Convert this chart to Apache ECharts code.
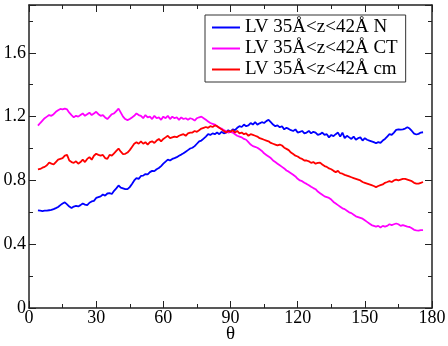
<!DOCTYPE html>
<html>
<head>
<meta charset="utf-8">
<script src="https://cdn.jsdelivr.net/npm/echarts@6/dist/echarts.min.js"></script>
<style>html,body{margin:0;padding:0;background:#fff;}#c{width:448px;height:346px;}</style>
</head>
<body>
<div id="c"></div>
<script>
// sampling angles (degrees), 4..176 in 1-degree steps
const thetaStart = 4;
const seriesNames = ['LV 35Å<z<42Å N', 'LV 35Å<z<42Å CT', 'LV 35Å<z<42Å cm'];
const xTickStep = 30;   // x tick labels 0,30,...,180
const yTickStep = 0.4;  // y tick labels 0,0.4,...,1.6

const valN = [
.612,.610,.608,.610,.611,.613,.615,.620,.626,.633,.645,.655,.662,.650,.636,.627,.636,.640,.637,.645,
.655,.648,.645,.660,.668,.672,.690,.695,.700,.712,.705,.718,.720,.715,.735,.750,.768,.755,.750,.745,
.745,.758,.778,.800,.815,.810,.828,.830,.840,.838,.852,.860,.858,.870,.878,.890,.905,.918,.930,.925,
.935,.940,.946,.955,.962,.970,.980,.990,1.000,1.005,1.015,1.030,1.045,1.050,1.062,1.075,1.090,1.085,1.095,1.090,
1.100,1.090,1.105,1.095,1.100,1.115,1.105,1.120,1.115,1.130,1.140,1.135,1.150,1.140,1.145,1.160,1.150,1.165,1.150,1.158,
1.165,1.160,1.172,1.180,1.165,1.150,1.140,1.145,1.133,1.140,1.120,1.130,1.123,1.115,1.110,1.120,1.100,1.105,1.110,1.095,
1.100,1.110,1.095,1.105,1.100,1.085,1.090,1.100,1.085,1.090,1.070,1.085,1.078,1.090,1.100,1.075,1.100,1.065,1.080,1.070,
1.060,1.075,1.055,1.065,1.070,1.050,1.065,1.055,1.050,1.045,1.040,1.033,1.040,1.035,1.050,1.060,1.075,1.090,1.085,1.100,
1.117,1.120,1.118,1.120,1.125,1.133,1.125,1.110,1.093,1.088,1.092,1.100,1.102
];
const valCT = [
1.144,1.160,1.175,1.190,1.200,1.210,1.205,1.215,1.230,1.240,1.248,1.245,1.250,1.245,1.225,1.210,1.196,1.205,1.200,1.210,
1.220,1.205,1.215,1.225,1.210,1.220,1.230,1.215,1.205,1.210,1.195,1.185,1.200,1.215,1.220,1.235,1.250,1.225,1.200,1.185,
1.178,1.185,1.195,1.205,1.220,1.210,1.205,1.190,1.210,1.195,1.200,1.185,1.205,1.190,1.195,1.180,1.200,1.190,1.205,1.185,
1.200,1.190,1.196,1.180,1.195,1.185,1.190,1.180,1.190,1.185,1.175,1.190,1.196,1.200,1.190,1.180,1.170,1.160,1.155,1.150,
1.140,1.130,1.125,1.115,1.110,1.100,1.105,1.100,1.090,1.080,1.075,1.070,1.060,1.055,1.040,1.025,1.015,1.010,1.005,0.995,
0.985,0.970,0.960,0.950,0.940,0.925,0.915,0.905,0.895,0.885,0.875,0.862,0.855,0.845,0.835,0.825,0.810,0.800,0.795,0.785,
0.778,0.770,0.760,0.752,0.745,0.730,0.720,0.710,0.700,0.695,0.690,0.680,0.665,0.655,0.645,0.635,0.625,0.620,0.610,0.600,
0.595,0.585,0.575,0.570,0.565,0.560,0.550,0.540,0.530,0.520,0.515,0.510,0.515,0.505,0.515,0.510,0.515,0.525,0.520,0.525,
0.530,0.525,0.515,0.520,0.515,0.510,0.508,0.500,0.490,0.487,0.485,0.488,0.488
];
const valCm = [
0.869,0.872,0.880,0.885,0.895,0.912,0.905,0.900,0.915,0.930,0.935,0.940,0.956,0.960,0.925,0.915,0.910,0.920,0.905,0.915,
0.930,0.915,0.935,0.946,0.930,0.955,0.967,0.960,0.955,0.960,0.940,0.935,0.960,0.955,0.970,0.985,1.000,0.980,0.965,0.967,
0.975,0.990,1.010,1.030,1.040,1.030,1.045,1.030,1.040,1.025,1.040,1.045,1.035,1.050,1.060,1.045,1.060,1.070,1.080,1.065,
1.070,1.075,1.071,1.080,1.085,1.090,1.080,1.095,1.100,1.100,1.110,1.105,1.115,1.125,1.130,1.135,1.130,1.140,1.135,1.145,
1.140,1.130,1.120,1.110,1.100,1.110,1.105,1.115,1.100,1.110,1.095,1.100,1.090,1.095,1.080,1.090,1.085,1.080,1.075,1.065,
1.060,1.055,1.050,1.045,1.035,1.030,1.025,1.020,1.025,1.019,1.005,0.998,0.990,0.975,0.965,0.955,0.950,0.940,0.935,0.925,
0.925,0.920,0.910,0.915,0.905,0.910,0.912,0.900,0.890,0.885,0.875,0.870,0.860,0.852,0.860,0.845,0.842,0.835,0.830,0.825,
0.820,0.815,0.810,0.805,0.800,0.790,0.785,0.780,0.775,0.770,0.765,0.758,0.765,0.770,0.775,0.785,0.790,0.796,0.790,0.800,
0.805,0.800,0.805,0.810,0.810,0.805,0.800,0.795,0.785,0.780,0.780,0.785,0.790
];

const theta = valN.map((_, i) => thetaStart + i);
const pairs = vals => vals.map((v, i) => [theta[i], v]);

const SERIF = 'Liberation Serif';
const chart = echarts.init(document.getElementById('c'), null, {renderer: 'canvas'});
const frameColor = '#222';

const frame = () => ({
  axisTick: {show: true, inside: true, length: 7, lineStyle: {color: frameColor, width: 1}},
  minorTick: {show: true, splitNumber: 2, length: 4, lineStyle: {color: frameColor, width: 1}},
  axisLine: {show: true, onZero: false, lineStyle: {color: frameColor, width: 1.5}},
  splitLine: {show: false}
});
const richLabel = () => ({t: {fontFamily: SERIF, fontSize: 18, color: '#000'}});

chart.setOption({
  animation: false,
  backgroundColor: '#fff',
  textStyle: {fontFamily: SERIF},
  grid: {left: 29, right: 16, top: 5, bottom: 38, containLabel: false, outerBoundsMode: 'none'},
  legend: {
    orient: 'vertical',
    left: 205, top: 15,
    padding: [2, 8, 2, 7],
    itemGap: 0,
    itemWidth: 28, itemHeight: 2,
    icon: 'rect',
    borderColor: '#333', borderWidth: 1,
    backgroundColor: '#fff',
    textStyle: {fontFamily: SERIF, fontSize: 19, color: '#000', lineHeight: 21},
    data: seriesNames
  },
  xAxis: [Object.assign({
    type: 'value', min: 0, max: 180, interval: xTickStep,
    name: 'θ', nameLocation: 'middle', nameGap: 17, nameMoveOverlap: false,
    nameTextStyle: {fontFamily: SERIF, fontSize: 19, color: '#000'},
    axisLabel: {fontFamily: SERIF, fontSize: 18, color: '#000', margin: 1,
      formatter: v => '{t|' + v + '}', rich: richLabel()}
  }, frame()), Object.assign({
    type: 'value', min: 0, max: 180, interval: xTickStep, position: 'top',
    axisLabel: {show: false}
  }, frame())],
  yAxis: [Object.assign({
    type: 'value', min: 0, max: 1.9, interval: yTickStep,
    axisLabel: {fontFamily: SERIF, fontSize: 18, color: '#000', margin: 3, showMaxLabel: false,
      formatter: v => '{t|' + (v === 0 ? '0' : v.toFixed(1)) + '}', rich: richLabel()}
  }, frame()), Object.assign({
    type: 'value', min: 0, max: 1.9, interval: yTickStep, position: 'right',
    axisLabel: {show: false}
  }, frame())],
  series: [
    {name: seriesNames[0], type: 'line', data: pairs(valN), showSymbol: false, symbol: 'none',
     lineStyle: {color: '#0000ff', width: 1.8}, itemStyle: {color: '#0000ff'}},
    {name: seriesNames[1], type: 'line', data: pairs(valCT), showSymbol: false, symbol: 'none',
     lineStyle: {color: '#ff00ff', width: 1.8}, itemStyle: {color: '#ff00ff'}},
    {name: seriesNames[2], type: 'line', data: pairs(valCm), showSymbol: false, symbol: 'none',
     lineStyle: {color: '#ff0000', width: 1.8}, itemStyle: {color: '#ff0000'}}
  ]
});
</script>
</body>
</html>
